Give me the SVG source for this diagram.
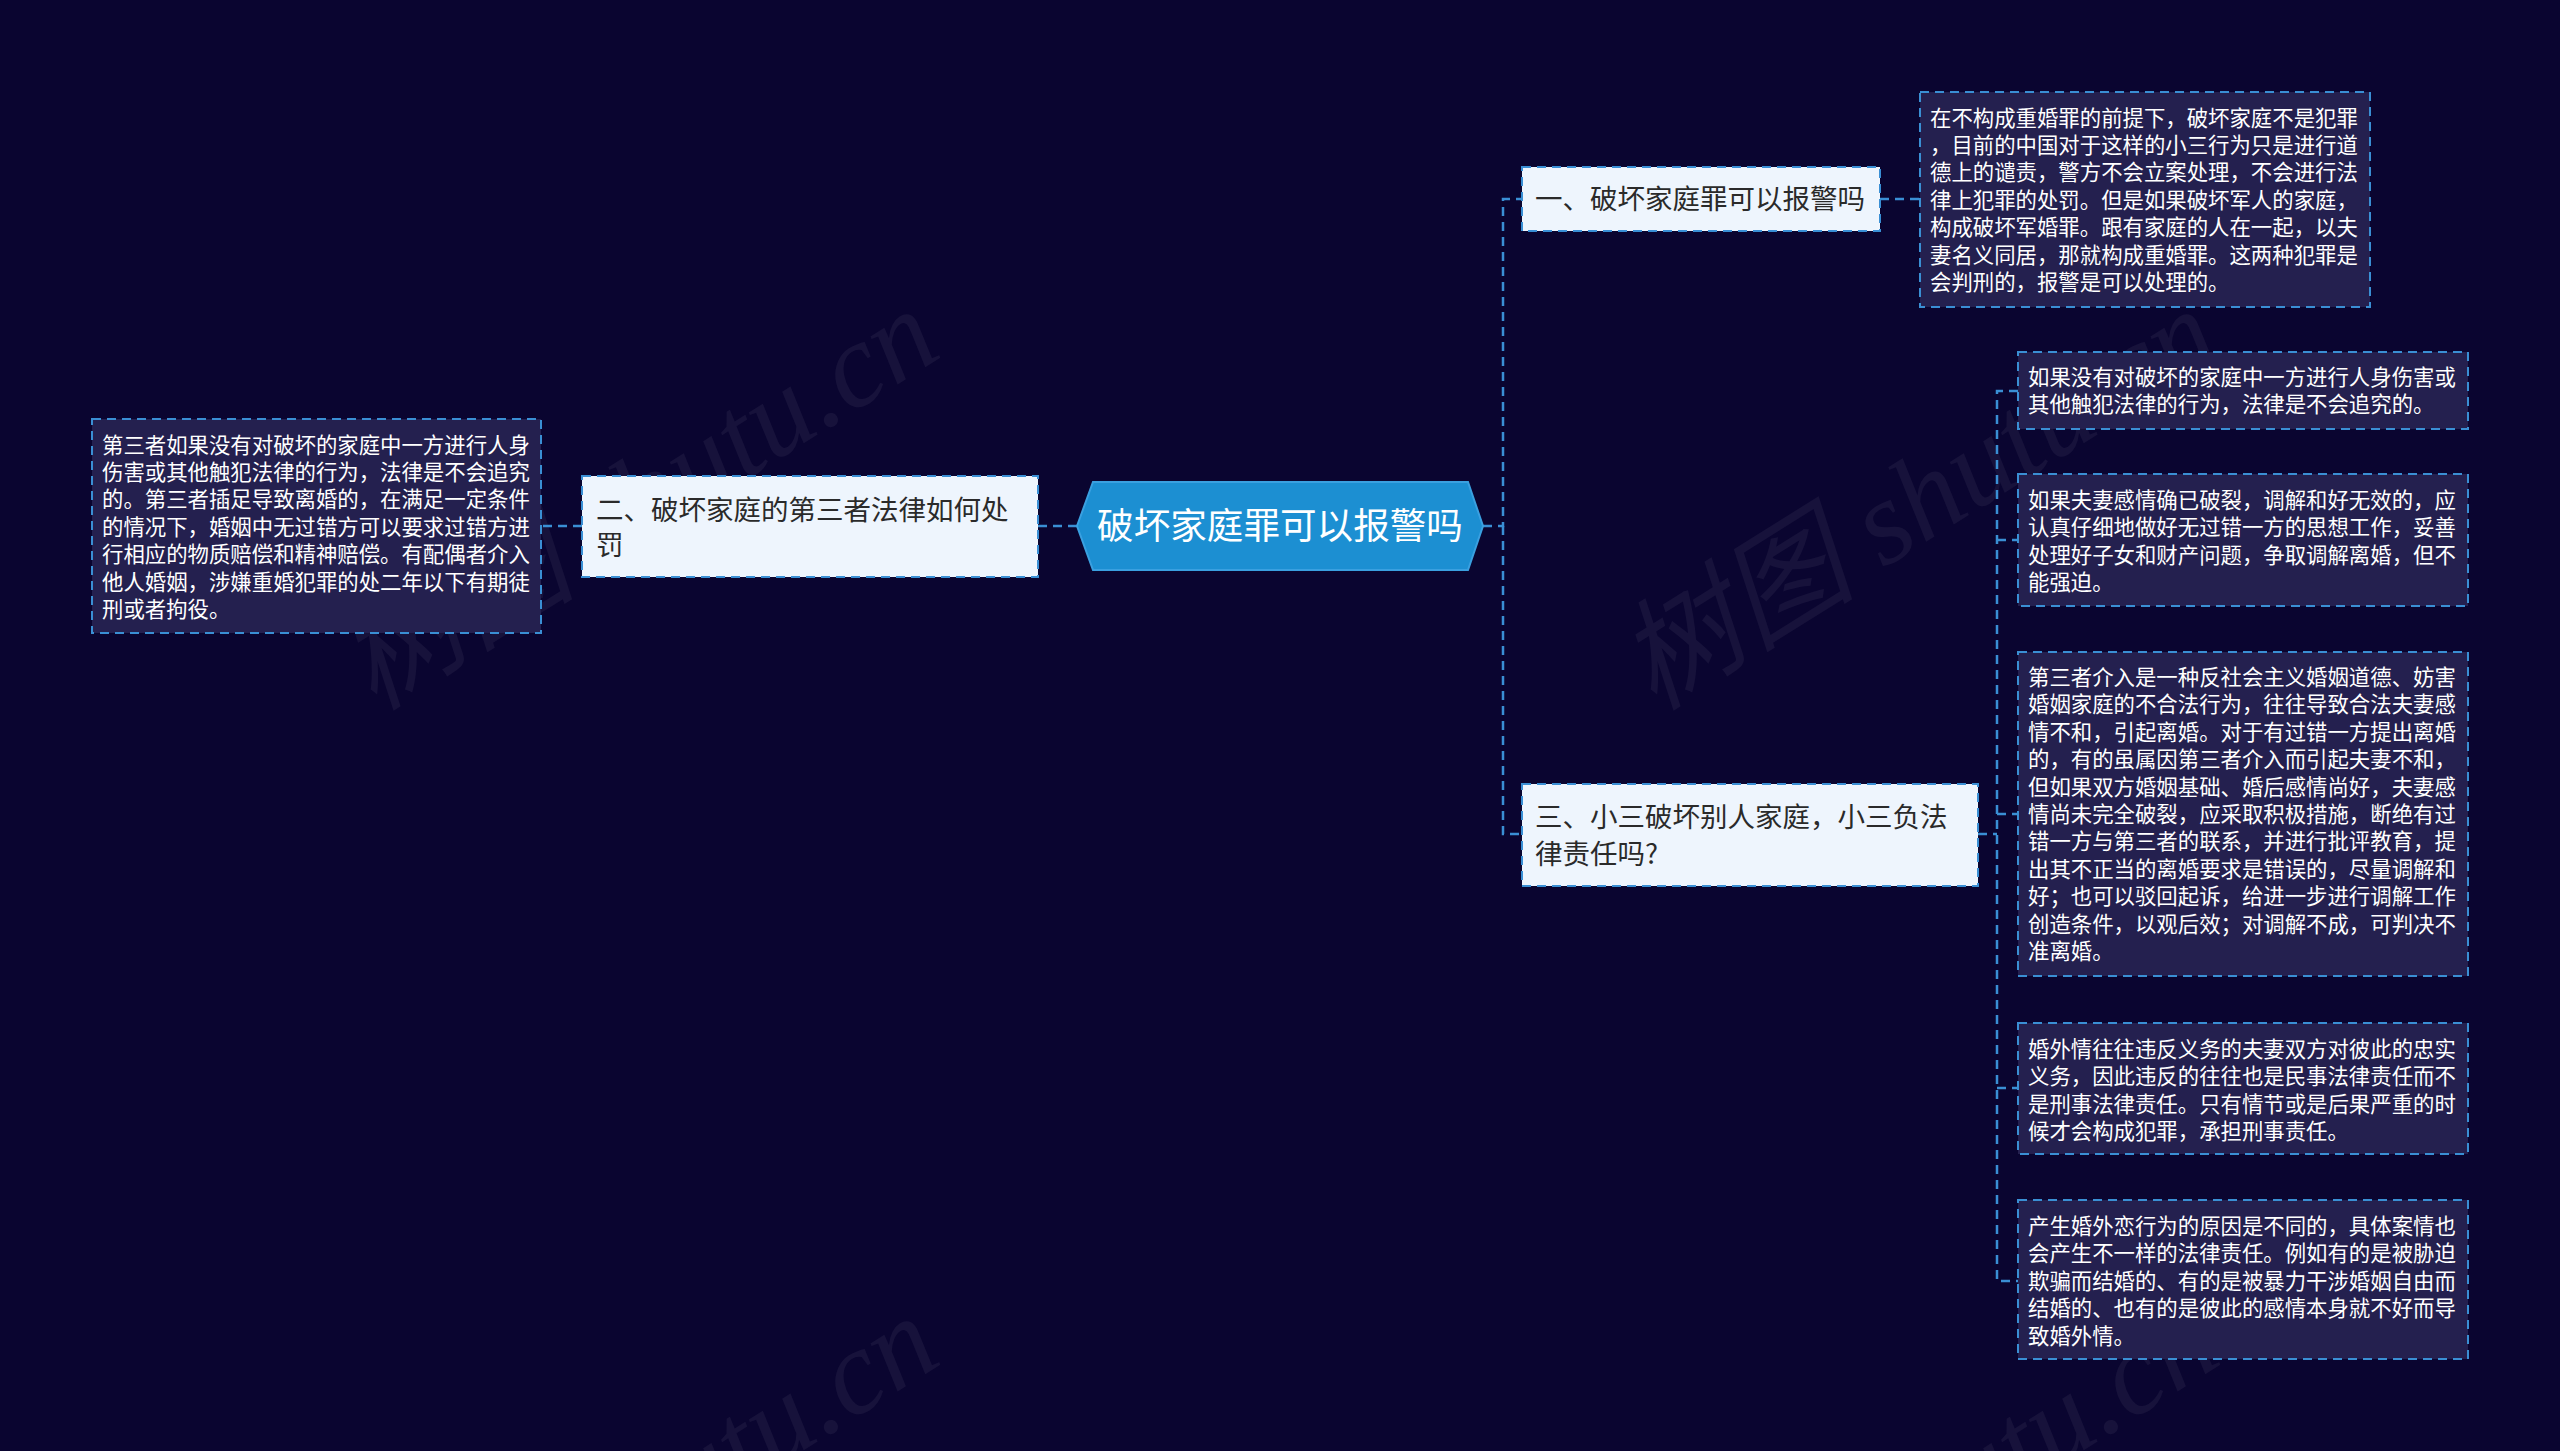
<svg xmlns="http://www.w3.org/2000/svg" width="2560" height="1451" viewBox="0 0 2560 1451">
<style>
.bg{fill:#0a0530}
.wm{font-family:"Liberation Serif","Noto Sans CJK SC",serif;font-style:italic;font-size:120px;fill:#ffffff;fill-opacity:0.055}
.conn{fill:none;stroke:#3a8fd4;stroke-width:2.5;stroke-dasharray:9 6}
.leaf{fill:#24204f;stroke:#3a8fd4;stroke-width:2;stroke-dasharray:9 6}
.node{fill:#eef5fd;stroke:#3a8fd4;stroke-width:2;stroke-dasharray:9 6}
.root{fill:#1c8fd2;stroke:#3aa0e0;stroke-width:2}
.lt{font-family:"Noto Sans CJK SC","Noto Sans",sans-serif;font-size:21.4px;fill:#ffffff}
.nt{font-family:"Noto Sans CJK SC","Noto Sans",sans-serif;font-size:27.5px;fill:#2a2a2a}
.rt{font-family:"Noto Sans CJK SC","Noto Sans",sans-serif;font-size:36.6px;fill:#ffffff;text-anchor:middle}
</style>
<rect class="bg" x="0" y="0" width="2560" height="1451"/>
<g id="watermarks">
<text class="wm" text-anchor="end" transform="translate(945,355) rotate(-32)">树图 shutu.cn</text>
<text class="wm" text-anchor="end" transform="translate(2225,355) rotate(-32)">树图 shutu.cn</text>
<text class="wm" text-anchor="end" transform="translate(945,1362) rotate(-32)">树图 shutu.cn</text>
<text class="wm" text-anchor="end" transform="translate(2225,1362) rotate(-32)">树图 shutu.cn</text>
</g>
<g id="connectors">
<path class="conn" d="M1483,526 H1503 V199 H1522"/>
<path class="conn" d="M1503,526 V834 H1522"/>
<path class="conn" d="M1077,526 H1038"/>
<path class="conn" d="M582,526 H541"/>
<path class="conn" d="M1880,199 H1920"/>
<path class="conn" d="M1978,834 H1997"/>
<path class="conn" d="M2018,391 H1997 V1281 H2018"/>
<path class="conn" d="M1997,540 H2018"/>
<path class="conn" d="M1997,814 H2018"/>
<path class="conn" d="M1997,1088 H2018"/>
</g>
<g id="root">
<polygon class="root" points="1077,526 1093,482 1468,482 1483,526 1468,570 1093,570"/>
<text class="rt" x="1280" y="539" text-anchor="middle">破坏家庭罪可以报警吗</text>
</g>
<g id="node1">
<rect class="node" x="1522" y="167" width="358" height="64"/>
<text class="nt" x="1535" y="208.5">一、破坏家庭罪可以报警吗</text>
</g>
<g id="node2">
<rect class="node" x="582" y="476" width="456" height="101"/>
<text class="nt" x="596" y="520">二、破坏家庭的第三者法律如何处</text>
<text class="nt" x="596" y="555">罚</text>
</g>
<g id="node3">
<rect class="node" x="1522" y="784" width="456" height="102"/>
<text class="nt" x="1535" y="827">三、小三破坏别人家庭，小三负法</text>
<text class="nt" x="1535" y="864">律责任吗?</text>
</g>
<g id="leaf1">
<rect class="leaf" x="1920" y="92" width="450" height="215"/>
<text class="lt" x="1930" y="125.5">在不构成重婚罪的前提下，破坏家庭不是犯罪</text>
<text class="lt" x="1930" y="152.9">，目前的中国对于这样的小三行为只是进行道</text>
<text class="lt" x="1930" y="180.3">德上的谴责，警方不会立案处理，不会进行法</text>
<text class="lt" x="1930" y="207.7">律上犯罪的处罚。但是如果破坏军人的家庭，</text>
<text class="lt" x="1930" y="235.1">构成破坏军婚罪。跟有家庭的人在一起，以夫</text>
<text class="lt" x="1930" y="262.5">妻名义同居，那就构成重婚罪。这两种犯罪是</text>
<text class="lt" x="1930" y="289.9">会判刑的，报警是可以处理的。</text>
</g>
<g id="leaf2">
<rect class="leaf" x="92" y="419" width="449" height="214"/>
<text class="lt" x="102" y="452.5">第三者如果没有对破坏的家庭中一方进行人身</text>
<text class="lt" x="102" y="479.9">伤害或其他触犯法律的行为，法律是不会追究</text>
<text class="lt" x="102" y="507.3">的。第三者插足导致离婚的，在满足一定条件</text>
<text class="lt" x="102" y="534.7">的情况下，婚姻中无过错方可以要求过错方进</text>
<text class="lt" x="102" y="562.1">行相应的物质赔偿和精神赔偿。有配偶者介入</text>
<text class="lt" x="102" y="589.5">他人婚姻，涉嫌重婚犯罪的处二年以下有期徒</text>
<text class="lt" x="102" y="616.9">刑或者拘役。</text>
</g>
<g id="leaf3a">
<rect class="leaf" x="2018" y="352" width="450" height="77"/>
<text class="lt" x="2028" y="385">如果没有对破坏的家庭中一方进行人身伤害或</text>
<text class="lt" x="2028" y="412.4">其他触犯法律的行为，法律是不会追究的。</text>
</g>
<g id="leaf3b">
<rect class="leaf" x="2018" y="474" width="450" height="132"/>
<text class="lt" x="2028" y="508">如果夫妻感情确已破裂，调解和好无效的，应</text>
<text class="lt" x="2028" y="535.4">认真仔细地做好无过错一方的思想工作，妥善</text>
<text class="lt" x="2028" y="562.8">处理好子女和财产问题，争取调解离婚，但不</text>
<text class="lt" x="2028" y="590.2">能强迫。</text>
</g>
<g id="leaf3c">
<rect class="leaf" x="2018" y="652" width="450" height="324"/>
<text class="lt" x="2028" y="685">第三者介入是一种反社会主义婚姻道德、妨害</text>
<text class="lt" x="2028" y="712.4">婚姻家庭的不合法行为，往往导致合法夫妻感</text>
<text class="lt" x="2028" y="739.8">情不和，引起离婚。对于有过错一方提出离婚</text>
<text class="lt" x="2028" y="767.2">的，有的虽属因第三者介入而引起夫妻不和，</text>
<text class="lt" x="2028" y="794.6">但如果双方婚姻基础、婚后感情尚好，夫妻感</text>
<text class="lt" x="2028" y="822">情尚未完全破裂，应采取积极措施，断绝有过</text>
<text class="lt" x="2028" y="849.4">错一方与第三者的联系，并进行批评教育，提</text>
<text class="lt" x="2028" y="876.8">出其不正当的离婚要求是错误的，尽量调解和</text>
<text class="lt" x="2028" y="904.2">好；也可以驳回起诉，给进一步进行调解工作</text>
<text class="lt" x="2028" y="931.6">创造条件，以观后效；对调解不成，可判决不</text>
<text class="lt" x="2028" y="959">准离婚。</text>
</g>
<g id="leaf3d">
<rect class="leaf" x="2018" y="1023" width="450" height="131"/>
<text class="lt" x="2028" y="1057">婚外情往往违反义务的夫妻双方对彼此的忠实</text>
<text class="lt" x="2028" y="1084.4">义务，因此违反的往往也是民事法律责任而不</text>
<text class="lt" x="2028" y="1111.8">是刑事法律责任。只有情节或是后果严重的时</text>
<text class="lt" x="2028" y="1139.2">候才会构成犯罪，承担刑事责任。</text>
</g>
<g id="leaf3e">
<rect class="leaf" x="2018" y="1200" width="450" height="159"/>
<text class="lt" x="2028" y="1234">产生婚外恋行为的原因是不同的，具体案情也</text>
<text class="lt" x="2028" y="1261.4">会产生不一样的法律责任。例如有的是被胁迫</text>
<text class="lt" x="2028" y="1288.8">欺骗而结婚的、有的是被暴力干涉婚姻自由而</text>
<text class="lt" x="2028" y="1316.2">结婚的、也有的是彼此的感情本身就不好而导</text>
<text class="lt" x="2028" y="1343.6">致婚外情。</text>
</g>
</svg>
